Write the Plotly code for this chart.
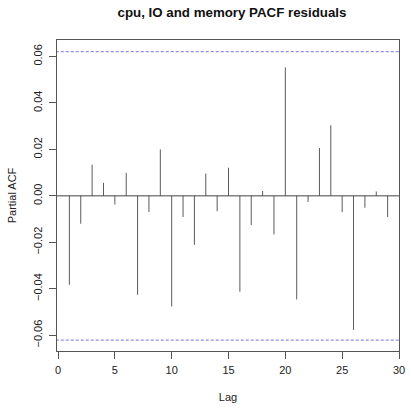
import plotly.graph_objects as go

lags = list(range(1, 30))
pacf_vals = [-0.0383, -0.0120, 0.0134, 0.0056, -0.0037, 0.0099, -0.0426, -0.0070,
             0.0200, -0.0476, -0.0091, -0.0211, 0.0096, -0.0066, 0.0121, -0.0413,
             -0.0126, 0.0021, -0.0166, 0.0553, -0.0446, -0.0026, 0.0206, 0.0304,
             -0.0070, -0.0577, -0.0051, 0.0019, -0.0091]
ci = 0.0621
x_ticks = [0, 5, 10, 15, 20, 25, 30]
y_ticks = [-0.06, -0.04, -0.02, 0.0, 0.02, 0.04, 0.06]

xs, ys = [], []
for k, v in zip(lags, pacf_vals):
    xs += [k, k, None]
    ys += [0, v, None]

fig = go.Figure()
fig.add_trace(go.Scatter(x=xs, y=ys, mode="lines",
                         line=dict(color="#5a5a5a", width=1), hoverinfo="skip",
                         showlegend=False))
fig.add_trace(go.Scatter(x=[-0.2, 30.2], y=[0, 0], mode="lines",
                         line=dict(color="#444444", width=1), showlegend=False))
for c in (ci, -ci):
    fig.add_trace(go.Scatter(x=[-0.2, 30.2], y=[c, c], mode="lines",
                             line=dict(color="#8f8fee", width=1.2, dash="3px,2px"),
                             showlegend=False))

font = "Liberation Sans, Arial, Helvetica, sans-serif"
fig.update_layout(
    width=411, height=408,
    margin=dict(l=57, r=6, t=40, b=56),
    paper_bgcolor="white", plot_bgcolor="white",
    font=dict(family=font, size=11, color="#222222"),
    title=dict(text="<b>cpu, IO and memory PACF residuals</b>", x=232 / 411, xanchor="center",
               y=1 - 12.5 / 408, yanchor="middle", font=dict(size=13.3, color="#111111")),
    xaxis=dict(range=[-0.09, 30.0], tickvals=x_ticks, ticks="outside", ticklen=7,
               tickcolor="#555555", showline=True, linecolor="#555555", mirror=True,
               showgrid=False, zeroline=False, ticklabeloverflow="allow",
               ticklabelstandoff=2,
               title=dict(text="Lag", standoff=18, font=dict(size=11))),
    yaxis=dict(range=[-0.0668, 0.0671], tickvals=y_ticks, tickformat=".2f",
               ticks="outside", ticklen=7, tickcolor="#555555", tickangle=-90,
               showline=True, linecolor="#555555", mirror=True,
               showgrid=False, zeroline=False, ticklabelstandoff=3,
               title=dict(text="Partial ACF", standoff=12, font=dict(size=11))),
)
fig.write_html("out.html")
